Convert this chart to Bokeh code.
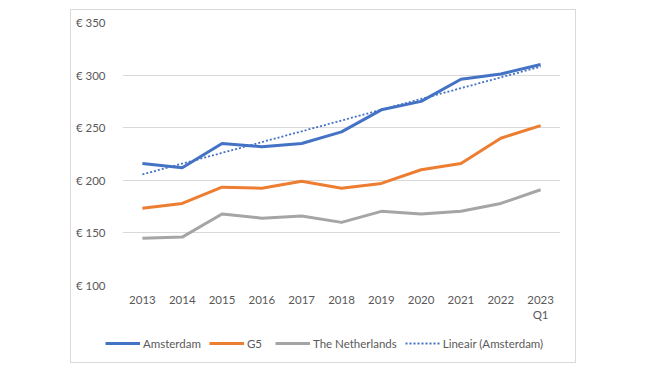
from bokeh.plotting import figure
from bokeh.layouts import column
from bokeh.models import FactorRange, Range1d, Legend, LegendItem, FixedTicker
from bokeh.embed import file_html
from bokeh.resources import INLINE
import numpy as np

years = ["2013", "2014", "2015", "2016", "2017", "2018", "2019", "2020", "2021", "2022", "2023\nQ1"]
amsterdam = [216, 212, 235, 232, 235, 246, 267, 275, 296, 301, 310]
g5 = [173.5, 178, 193.5, 192.5, 199, 192.5, 197, 210, 216, 240, 252]
netherlands = [145, 146, 168, 164, 166, 160, 170.5, 168, 170.5, 178, 191]
y_ticks = [100, 150, 200, 250, 300, 350]
series_names = ["Amsterdam", "G5", "The Netherlands", "Lineair (Amsterdam)"]

# Linear trendline (Excel "Lineair") fitted on the Amsterdam series
xi = np.arange(1, len(amsterdam) + 1)
slope, intercept = np.polyfit(xi, amsterdam, 1)
trend = list(slope * xi + intercept)

FONT = "Lato"
TXT = "#595959"
COLORS = ["#4472C4", "#ED7D31", "#A5A5A5", "#4472C4"]
WIDTHS = [3, 3, 3, 1.8]
DASHES = ["solid", "solid", "solid", "2 2"]
SERIES = [amsterdam, g5, netherlands, trend]

W = 504
p = figure(x_range=FactorRange(*years), y_range=Range1d(100, 350),
           width=W, height=315, output_backend="svg", toolbar_location=None,
           min_border_left=51, min_border_right=15, min_border_top=12, min_border_bottom=40)
p.outline_line_color = None
p.frame_align = False

for vals, c, w, d in zip(SERIES, COLORS, WIDTHS, DASHES):
    p.line(years, vals, line_color=c, line_width=w, line_dash=d, line_join="round")

p.xgrid.grid_line_color = None
p.ygrid.grid_line_color = "#d9d9d9"
p.yaxis.ticker = FixedTicker(ticks=y_ticks)
p.yaxis.major_label_overrides = {v: "€ %d" % v for v in y_ticks}

for ax in (p.xaxis[0], p.yaxis[0]):
    ax.axis_line_color = None
    ax.major_tick_line_color = None
    ax.minor_tick_line_color = None
    ax.major_label_text_font = FONT
    ax.major_label_text_font_size = "11.5px"
    ax.major_label_text_color = TXT
p.yaxis.major_label_standoff = 11
p.xaxis.major_label_standoff = 1

# Legend strip below the chart (series drawn off-view so only the legend shows)
lf = figure(x_range=FactorRange(*years), y_range=Range1d(0, 1), width=W, height=37,
            output_backend="svg", toolbar_location=None,
            min_border=0, min_border_left=0, min_border_right=0, min_border_top=0, min_border_bottom=0)
lf.frame_align = False
lf.axis.visible = False
lf.grid.visible = False
lf.outline_line_color = None
items = []
for name, vals, c, w, d in zip(series_names, SERIES, COLORS, WIDTHS, DASHES):
    r = lf.line(years, vals, line_color=c, line_width=w, line_dash=d)
    items.append(LegendItem(label=name, renderers=[r]))

legend = Legend(items=items, orientation="horizontal", location=(34, 9))
legend.border_line_color = None
legend.background_fill_alpha = 0
legend.label_text_font = FONT
legend.label_text_font_size = "11.5px"
legend.label_text_color = TXT
legend.glyph_width = 35
legend.label_standoff = 3
legend.spacing = 8
legend.padding = 0
legend.margin = 0
lf.add_layout(legend)

layout = column(p, lf, spacing=0, margin=(9, 0, 0, 70),
                styles={"border": "1px solid #d9d9d9"})

open("out.html", "w").write(file_html(layout, INLINE))
